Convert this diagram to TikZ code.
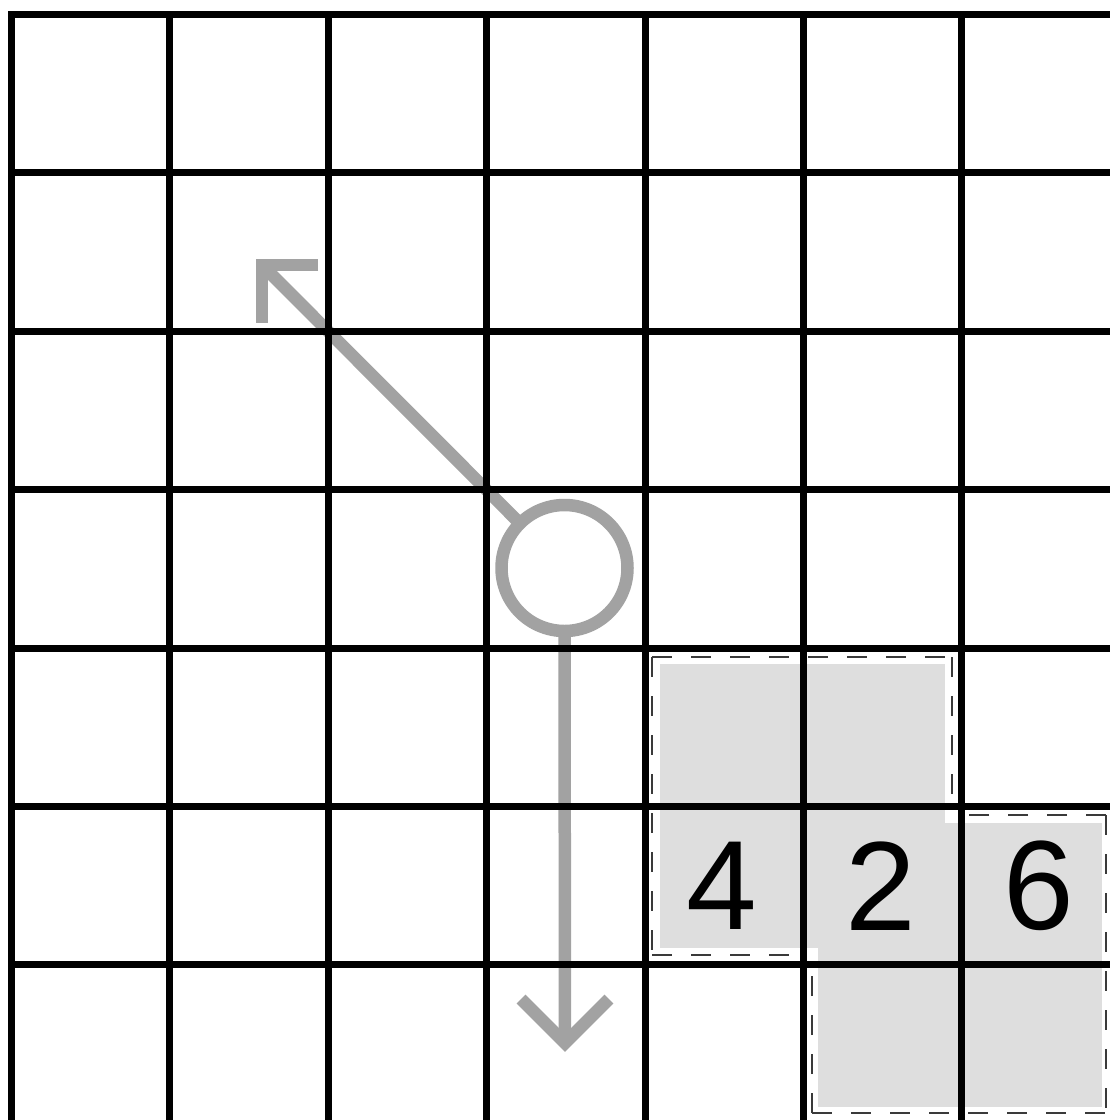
\documentclass[tikz,border=0pt]{standalone}
\usepackage{fontspec}
\setmainfont{Liberation Sans}
\definecolor{cellgray}{HTML}{DEDEDE}
\definecolor{arrowgray}{HTML}{A2A2A2}
\definecolor{dashgray}{HTML}{3A3A3A}
\tikzset{
  gridline/.style={line width=7pt, black, line cap=rect},
  shade/.style={fill=cellgray, draw=none},
  outline/.style={draw=dashgray, line width=2pt, dash pattern=on 20pt off 19pt},
  arrowline/.style={draw=arrowgray, line width=12.5pt},
  barb/.style={draw=arrowgray, line width=12.5pt, line join=miter, line cap=butt},
  digit/.style={inner sep=0pt, font=\fontsize{127}{127}\selectfont}
}
\begin{document}
\begin{tikzpicture}[x=1pt,y=-1pt]
\useasboundingbox (0,0) rectangle (1110,1120);
\clip (0,0) rectangle (1110,1120);
\fill[white] (0,0) rectangle (1110,1120);
% dashed outlines, each side dashed from a corner
\draw[outline] (652,657) -- (952,657);
\draw[outline] (652,657) -- (652,955);
\draw[outline] (952,657) -- (952,806);
\draw[outline] (652,955) -- (800,955);
\draw[outline] (1106,815) -- (965,815);
\draw[outline] (1106,815) -- (1106,1113);
\draw[outline] (812,1113) -- (1106,1113);
\draw[outline] (812,1113) -- (812,968);
% gray fills
\path[shade] (660,664) rectangle (945,948);
\path[shade] (818,823) rectangle (1102,1107);
% circle and arrows
\node[circle, draw=arrowgray, line width=12.5pt, minimum size=126pt, inner sep=0pt, outer sep=0pt] (c) at (564.5,568) {};
\coordinate (t1) at (262,265);
\coordinate (t2) at (565,1043);
\draw[arrowline] (c) -- (t1);
\draw[barb] (318,265) -- (t1) -- (262,323);
\draw[arrowline] (c.south) -- (t2);
\draw[barb] (521,999) -- (t2) -- (609,999);
% grid
\foreach \i in {0,...,7} {
  \draw[gridline] ({11.5+158.4*\i},14.5) -- ({11.5+158.4*\i},1130);
  \draw[gridline] (11.5,{14.5+158.4*\i}) -- (1120,{14.5+158.4*\i});
}
% digits
\node[digit] (n4) at (722,886) {4};
\node[digit] (n2) at (881,886) {2};
\node[digit] (n6) at (1039,886) {6};
\end{tikzpicture}
\end{document}
